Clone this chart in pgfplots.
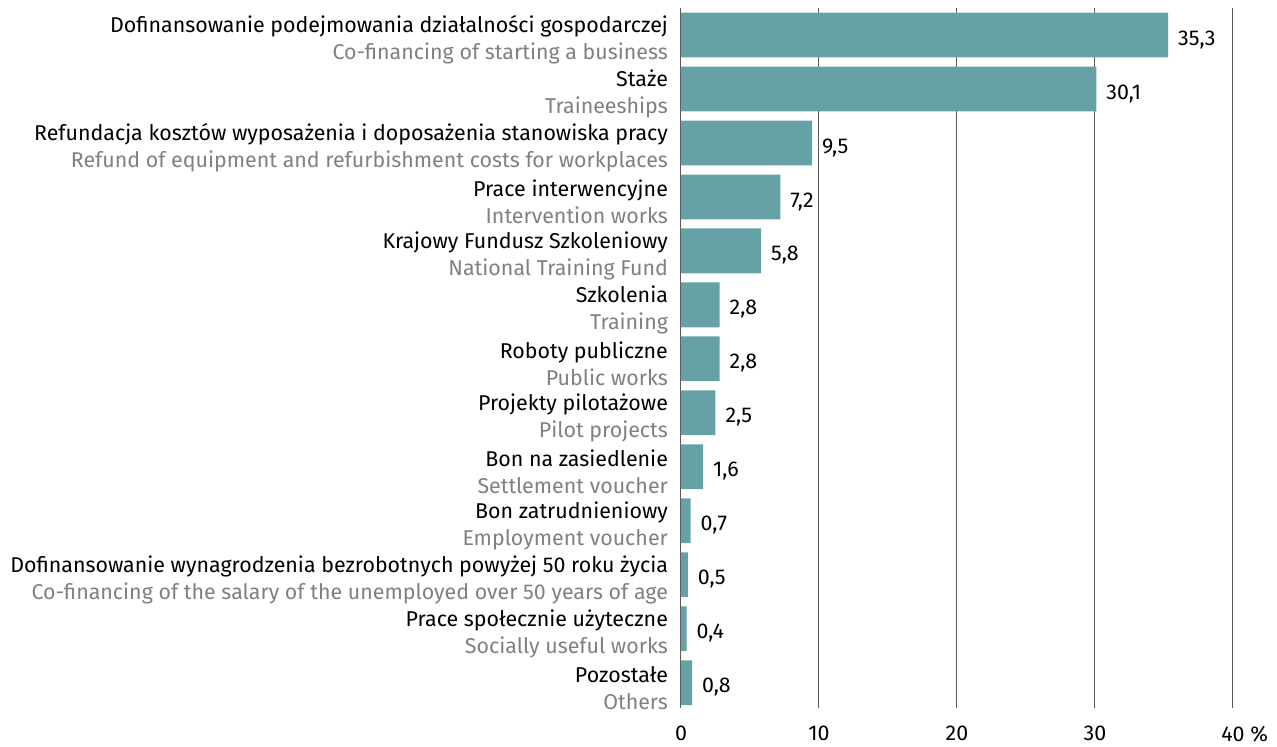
\documentclass[border=0pt]{standalone}
\usepackage{fontspec}
\setmainfont{Fira Sans}
\usepackage{pgfplots}
\pgfplotsset{compat=1.18}
\definecolor{barc}{RGB}{102,161,165}
\definecolor{engl}{RGB}{128,128,128}
\definecolor{gridc}{RGB}{90,90,90}
\newcommand{\lab}[2]{#1\\\textcolor{engl}{#2}}
\begin{document}
\begin{tikzpicture}
\begin{axis}[
  name=ax,
  scale only axis,
  width=276pt, height=350pt,
  xbar, y dir=reverse,
  xmin=0, xmax=40, ymin=-0.5, ymax=12.47,
  bar width=0.83, bar shift=0pt,
  axis line style={draw=none},
  xmajorgrids, major grid style={gridc, line width=0.5pt},
  major tick length=0pt,
  xtick={0,10,20,30,40},
  xticklabels={0,10,20,30,40\rlap{~\%}},
  ytick={0,...,12},
  yticklabels={
    {\lab{Dofinansowanie podejmowania działalności gospodarczej}{Co-financing of starting a business}},
    {\lab{Staże}{Traineeships}},
    {\lab{Refundacja kosztów wyposażenia i doposażenia stanowiska pracy}{Refund of equipment and refurbishment costs for workplaces}},
    {\lab{Prace interwencyjne}{Intervention works}},
    {\lab{Krajowy Fundusz Szkoleniowy}{National Training Fund}},
    {\lab{Szkolenia}{Training}},
    {\lab{Roboty publiczne}{Public works}},
    {\lab{Projekty pilotażowe}{Pilot projects}},
    {\lab{Bon na zasiedlenie}{Settlement voucher}},
    {\lab{Bon zatrudnieniowy}{Employment voucher}},
    {\lab{Dofinansowanie wynagrodzenia bezrobotnych powyżej 50 roku życia}{Co-financing of the salary of the unemployed over 50 years of age}},
    {\lab{Prace społecznie użyteczne}{Socially useful works}},
    {\lab{Pozostałe}{Others}}
  },
  yticklabel style={align=right, font=\fontsize{10.7}{13.5}\selectfont, xshift=-3pt, yshift=-2.5pt},
  xticklabel style={font=\fontsize{10.7}{12}\selectfont, yshift=-5.5pt},
  nodes near coords,
  nodes near coords style={anchor=west, xshift=1.5pt, yshift=-2.3pt, font=\fontsize{10.7}{12}\selectfont, text=black,
    /pgf/number format/.cd, use comma, fixed, fixed zerofill, precision=1, assume math mode=true},
  clip=false,
]
\addplot[fill=barc, draw=none] coordinates {
  (35.3,0) (30.1,1) (9.5,2) (7.2,3) (5.8,4) (2.8,5) (2.8,6) (2.5,7) (1.6,8) (0.7,9) (0.5,10) (0.4,11) (0.8,12)
};
\end{axis}
\pgfresetboundingbox
\useasboundingbox (ax.south west) ++(-340.5pt,-19pt) rectangle ++(638.5pt,373pt);
\end{tikzpicture}
\end{document}
